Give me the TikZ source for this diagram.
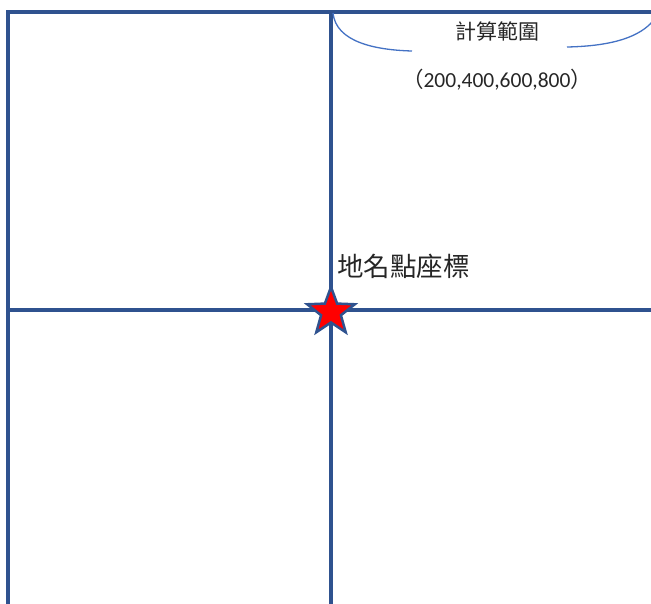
\documentclass[tikz,border=0pt]{standalone}
\usepackage{fontspec}
\setmainfont{Carlito}
\newfontfamily\cjk{Noto Sans CJK TC}
\usetikzlibrary{shapes.geometric}
\definecolor{gridblue}{RGB}{47,82,143}
\definecolor{bracecol}{RGB}{68,114,196}
\tikzset{
  gridline/.style={draw=gridblue, line width=3.2pt},
  braceline/.style={draw=bracecol, line width=1.3pt},
  lbl/.style={inner sep=0pt, text=black!85},
}
\begin{document}
\begin{tikzpicture}[x=1pt,y=-1pt]
\useasboundingbox (0,0) rectangle (651,603);
\coordinate (tl) at (8,12);
\coordinate (tr) at (653,12);
\coordinate (bl) at (8,605);
\coordinate (vt) at (331,12);
\coordinate (vb) at (331,605);
\coordinate (hl) at (8,310);
\coordinate (hr) at (653,310);
\draw[gridline] (bl) -- (tl) -- (tr);
\draw[gridline] (vt) -- (vb);
\draw[gridline] (hl) -- (hr);
% brace
\coordinate (b1) at (333,13);
\coordinate (b2) at (412,51);
\coordinate (b3) at (567,47);
\coordinate (b4) at (653,21);
\draw[braceline] (b1) .. controls (336,42) and (375,50) .. (b2);
\draw[braceline] (b3) .. controls (615,46) and (640,36) .. (b4);
\node[lbl, font=\cjk\fontsize{21}{21}\selectfont] (range) at (497,31) {計算範圍};
\node[lbl, font=\fontsize{21.5}{21.5}\selectfont] (nums) at (497,80) {{\cjk（}200,400,600,800{\cjk）}};
\node[lbl, font=\cjk\fontsize{26.5}{26.5}\selectfont, anchor=west] (place) at (337,266) {地名點座標};
\node[star, star points=5, star point ratio=2.4, minimum size=50pt, inner sep=0pt,
      fill=red, draw=gridblue, line width=2.5pt] (pt) at (331,312) {};
\end{tikzpicture}
\end{document}
